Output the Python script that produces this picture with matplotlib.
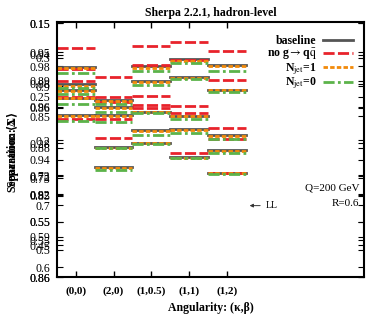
import matplotlib
matplotlib.use("Agg")
import matplotlib.pyplot as plt

plt.rcParams['font.family'] = ['Liberation Serif', 'DejaVu Serif']
plt.rcParams['mathtext.fontset'] = 'stix'

# angularity bins
bins = ["(0,0)", "(2,0)", "(1,0.5)", "(1,1)", "(1,2)"]

# five overlaid groups, each with the four variations
baseline = [
    [0.824, 0.694, 0.827, 0.855, 0.831],
    [0.757, 0.667, 0.769, 0.784, 0.733],
    [0.733, 0.635, 0.647, 0.631, 0.557],
    [0.702, 0.510, 0.576, 0.580, 0.498],
    [0.635, 0.431, 0.525, 0.471, 0.408],
]
no_gqq = [
    [0.898, 0.784, 0.906, 0.922, 0.886],
    [0.816, 0.706, 0.831, 0.851, 0.773],
    [0.769, 0.686, 0.710, 0.671, 0.584],
    [0.706, 0.620, 0.675, 0.643, 0.541],
    [0.620, 0.545, 0.663, 0.486, 0.408],
]
njet1 = [
    [0.820, 0.690, 0.820, 0.847, 0.827],
    [0.749, 0.663, 0.765, 0.780, 0.733],
    [0.729, 0.631, 0.647, 0.631, 0.553],
    [0.702, 0.506, 0.573, 0.576, 0.494],
    [0.631, 0.427, 0.525, 0.467, 0.408],
]
njet0 = [
    [0.800, 0.678, 0.808, 0.839, 0.808],
    [0.741, 0.647, 0.753, 0.776, 0.725],
    [0.718, 0.608, 0.643, 0.620, 0.541],
    [0.678, 0.506, 0.557, 0.565, 0.486],
    [0.612, 0.420, 0.522, 0.467, 0.404],
]

# left axis labels, several scales drawn on top of each other
ytick_pos = [0.996, 0.996, 0.882, 0.871, 0.859, 0.827, 0.769, 0.757, 0.749, 0.706,
             0.667, 0.663, 0.631, 0.537, 0.525, 0.506, 0.459, 0.400, 0.396, 0.388,
             0.325, 0.322, 0.318, 0.282, 0.216, 0.216, 0.157, 0.145, 0.125, 0.106,
             0.039, 0.0, 0.0]
ytick_lab = ["0.35", "0.15", "0.95", "0.94", "0.3", "0.98", "0.89", "0.88", "0.9", "0.25",
             "0.96", "0.86", "0.85", "0.2", "0.28", "0.88", "0.94", "0.73", "0.72", "0.75",
             "0.92", "0.82", "0.85", "0.7", "0.65", "0.55", "0.59", "0.55", "0.45", "0.5",
             "0.6", "0.88", "0.86"]

series = [
    ("baseline", baseline, dict(color="#555555", ls="-")),
    (r"no g$\rightarrow$q$\bar{\mathrm{q}}$", no_gqq, dict(color="#e8232b", ls=(0, (4, 1.2)))),
    (r"N$_{\mathrm{jet}}$=1", njet1, dict(color="#f28a0a", ls=(0, (1.6, 0.8)))),
    (r"N$_{\mathrm{jet}}$=0", njet0, dict(color="#5cb34a", ls=(0, (4, 1.2, 1, 1.2)))),
]

fig = plt.figure(figsize=(3.74, 3.24), dpi=100)
ax = fig.add_axes([0.152, 0.145, 0.821, 0.787])

for label, groups, style in series:
    for g, vals in enumerate(groups):
        for i, v in enumerate(vals):
            ax.plot([i - 0.5, i + 0.5], [v, v], lw=2, label=label if (g == 0 and i == 0) else None, **style)

ax.set_xlim(-0.5, 7.63)
ax.set_ylim(0, 1)
ax.set_xticks(range(len(bins)))
ax.set_xticklabels(bins, fontsize=8, fontweight='bold')
ax.set_yticks(ytick_pos)
ax.set_yticklabels(ytick_lab, fontsize=8.5)
ax.tick_params(axis='x', direction='in', top=True, length=4, width=1, pad=7)
ax.tick_params(axis='y', direction='in', right=True, length=4, width=0.8, pad=5)
for s in ax.spines.values():
    s.set_linewidth(1.5)

ax.set_title("Sherpa 2.2.1, hadron-level", fontsize=8.5, fontweight='bold', pad=4)
ax.set_xlabel("Angularity: (κ,β)", fontsize=8.5, fontweight='bold', labelpad=4)
# two y titles drawn on top of each other
fig.text(0.035, 0.53, "Separation: Δ", rotation=90, fontsize=8.5, fontweight='bold', ha='center', va='center')
fig.text(0.035, 0.53, "Separation: ⟨Σ⟩", rotation=90, fontsize=8.5, fontweight='bold', ha='center', va='center')

ax.legend(loc='upper right', bbox_to_anchor=(1.0, 0.99), markerfirst=False, frameon=False,
          handlelength=2.6, labelspacing=-0.05, handletextpad=0.5,
          prop={'size': 8.5, 'weight': 'bold'})

ax.text(0.985, 0.35, "Q=200 GeV", transform=ax.transAxes, ha='right', va='center', fontsize=8)
ax.text(0.985, 0.29, "R=0.6", transform=ax.transAxes, ha='right', va='center', fontsize=8)
ax.annotate("LL", xy=(4.53, 0.28), xytext=(5.03, 0.28), fontsize=7, va='center',
            arrowprops=dict(arrowstyle='-|>', lw=0.7, color='#333333', mutation_scale=5))

fig.savefig("out.png", dpi=100)
